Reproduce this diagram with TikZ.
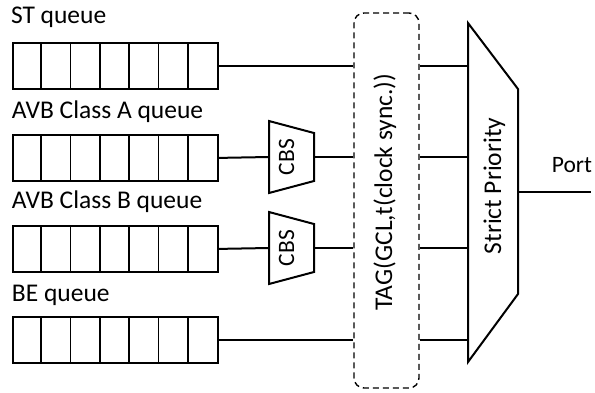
\documentclass[tikz,border=0pt]{standalone}
\usepackage{fontspec}
\setmainfont{Carlito}
\begin{document}
\begin{tikzpicture}[x=1pt,y=-1pt,line width=2pt,
  lbl/.style={font=\fontsize{25.5}{30}\selectfont, inner sep=0pt},
  small/.style={font=\fontsize{23.5}{28}\selectfont, inner sep=0pt},
  queue/.style={draw, minimum width=205pt, minimum height=46pt, inner sep=0pt, anchor=north west, line width=1.8pt},
  tagbox/.style={draw, dash pattern=on 6pt off 4pt, rounded corners=10pt, minimum width=65pt, minimum height=375pt, inner sep=0pt, line width=1.4pt},
  conn/.style={line width=2pt}]
\useasboundingbox (0,0) rectangle (595,392);

% queues
\foreach \n/\y in {q1/42, q2/134, q3/225, q4/316}{
  \node[queue] (\n) at (12,\y) {};
  \foreach \i in {1,...,6}
    \draw[line width=1.8pt] (12+\i*29.2857,\y) -- ++(0,46);
}
\node[lbl, anchor=base west] (l1) at (10,23) {ST queue};
\node[lbl, anchor=base west] (l2) at (11,118) {AVB Class A queue};
\node[lbl, anchor=base west] (l3) at (11,208) {AVB Class B queue};
\node[lbl, anchor=base west] (l4) at (11,301) {BE queue};

% CBS shapers
\draw (269,121) -- (314,133) -- (314,181) -- (269,193) -- cycle;
\coordinate (cbsAin) at (269,157);
\coordinate (cbsAout) at (314,157);
\node[small, rotate=90, anchor=base] (cbsA) at (294,157) {CBS};

\draw (269,212) -- (314,224) -- (314,272) -- (269,284) -- cycle;
\coordinate (cbsBin) at (269,248);
\coordinate (cbsBout) at (314,248);
\node[small, rotate=90, anchor=base] (cbsB) at (294,248) {CBS};

% TAG
\node[tagbox] (tag) at (386.5,200.5) {};
\node[lbl, rotate=90, anchor=base] (tagt) at (392,192) {TAG(GCL,t(clock sync.))};

% Strict priority
\coordinate (spl) at (468,192);
\coordinate (spout) at (518,192);
\draw (468,23) -- (518,89) -- (518,294) -- (468,362) -- cycle;
\node[lbl, rotate=90, anchor=base] (sp) at (501,186) {Strict Priority};

% output
\coordinate (portend) at (591,192);
\draw[conn] (spout) -- (portend);
\node[small, anchor=base east] (port) at (593,172) {Port};

% connectors
\draw[conn] (q1.east) -- (q1.east -| tag.west);
\draw[conn] (q2.east) -- (cbsAin);
\draw[conn] (cbsAout) -- (cbsAout -| tag.west);
\draw[conn] (q3.east) -- (cbsBin);
\draw[conn] (cbsBout) -- (cbsBout -| tag.west);
\draw[conn] (q4.east) -- (q4.east -| tag.west);

\draw[conn] (q1.east -| tag.east) -- (q1.east -| spl);
\draw[conn] (cbsAout -| tag.east) -- (cbsAout -| spl);
\draw[conn] (cbsBout -| tag.east) -- (cbsBout -| spl);
\draw[conn] (q4.east -| tag.east) -- (q4.east -| spl);
\end{tikzpicture}
\end{document}
